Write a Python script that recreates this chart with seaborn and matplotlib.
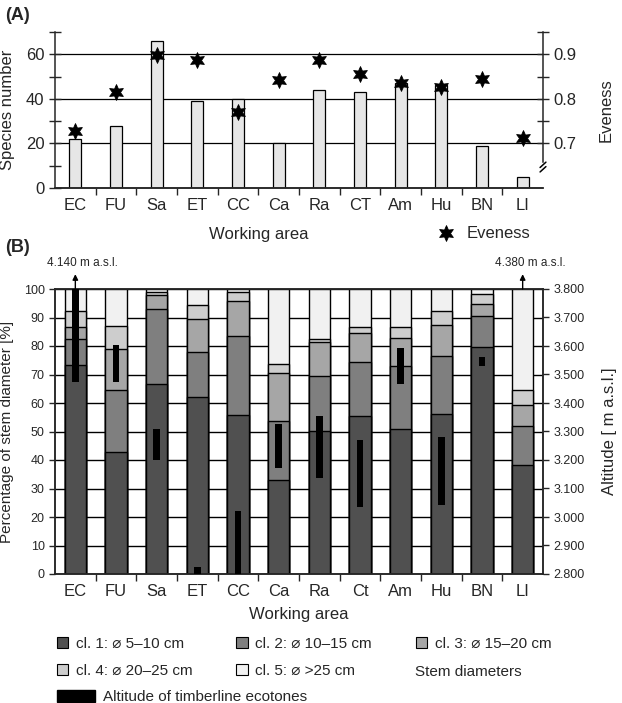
import numpy as np
import pandas as pd
import matplotlib
matplotlib.use("Agg")
import matplotlib.pyplot as plt
import seaborn as sns
from matplotlib.patches import Patch
from matplotlib.ticker import FixedLocator, FuncFormatter
from matplotlib.transforms import blended_transform_factory

# ---- panel A data ----
areas_a = ["EC", "FU", "Sa", "ET", "CC", "Ca", "Ra", "CT", "Am", "Hu", "BN", "LI"]
species = [22, 28, 66, 39, 40, 20, 44, 43, 47, 46, 19, 5]
evenness = [0.729, 0.816, 0.898, 0.887, 0.770, 0.842, 0.887, 0.856, 0.835, 0.827, 0.845, 0.713]

# ---- panel B data (share of stems per diameter class, %) ----
areas_b = ["EC", "FU", "Sa", "ET", "CC", "Ca", "Ra", "Ct", "Am", "Hu", "BN", "LI"]
cl1 = [73.2, 42.7, 66.7, 62.1, 55.9, 32.9, 50.3, 55.3, 50.9, 56.1, 79.6, 38.4]
cl2 = [9.4, 22.0, 26.4, 15.8, 27.7, 20.7, 19.3, 19.1, 22.2, 20.5, 11.0, 13.6]
cl3 = [3.9, 14.4, 4.7, 11.6, 12.1, 16.9, 11.7, 10.2, 9.6, 10.9, 4.3, 7.4]
cl4 = [5.9, 7.8, 1.0, 4.9, 3.4, 3.3, 1.2, 1.9, 3.8, 4.7, 3.5, 5.0]
cl5 = [7.6, 13.1, 1.2, 5.6, 0.9, 26.2, 17.5, 13.5, 13.5, 7.8, 1.6, 35.6]
class_labels = ["cl. 1: \u2300 5\u201310 cm", "cl. 2: \u2300 10\u201315 cm",
                "cl. 3: \u2300 15\u201320 cm", "cl. 4: \u2300 20\u201325 cm",
                "cl. 5: \u2300 >25 cm"]

# altitude of the timberline ecotones [m a.s.l.]
eco_low = [3474, 3474, 3201, 2800, 2800, 3172, 3137, 3034, 3467, 3043, 3531, 4380]
eco_high = [4140, 3602, 3309, 2823, 3022, 3326, 3356, 3271, 3593, 3280, 3560, 4380]

class_colors = ["#505050", "#7f7f7f", "#a6a6a6", "#cdcdcd", "#f1f1f1"]

sns.set_style("ticks")
plt.rcParams["font.family"] = ["Liberation Sans", "DejaVu Sans"]
plt.rcParams["axes.linewidth"] = 1.1

W, H = 622, 703
fig = plt.figure(figsize=(W / 100, H / 100), dpi=100)
n = len(areas_a)
xpos = np.arange(n)


def dotted(v, _pos=None):
    return f"{v:,.0f}".replace(",", ".")


# =================== (A) ===================
ax_a = fig.add_axes([55 / W, 1 - 188 / H, 488 / W, 156 / H])
df_a = pd.DataFrame({"area": areas_a, "species": species})
sns.barplot(data=df_a, x="area", y="species", ax=ax_a, color="#e6e6e6",
            saturation=1, edgecolor="black", linewidth=0.9, width=0.29)
ax_a.set_xlim(-0.5, n - 0.5)
ax_a.set_ylim(0, 70)
ax_a.set_yticks([0, 20, 40, 60])
ax_a.yaxis.set_minor_locator(FixedLocator([10, 30, 50, 70]))
ax_a.grid(axis="y", which="major", color="black", lw=0.9)
ax_a.set_axisbelow(True)
ax_a.set_xticks(xpos)
ax_a.set_xticklabels(areas_a)
ax_a.xaxis.set_minor_locator(FixedLocator(np.arange(0.5, n - 1, 1)))
ax_a.tick_params(axis="x", which="major", length=0, pad=7, labelsize=12)
ax_a.tick_params(axis="x", which="minor", length=5, width=1, direction="out")
ax_a.tick_params(axis="y", which="both", direction="inout", length=8, width=1, labelsize=12)
ax_a.spines["top"].set_visible(False)
ax_a.spines["right"].set_visible(False)
ax_a.set_ylabel("Species number", fontsize=12)
ax_a.yaxis.set_label_coords(-0.082, 0.5)
ax_a.set_xlabel("Working area", fontsize=12)
ax_a.xaxis.set_label_coords(0.418, -0.25)

ax_e = ax_a.twinx()
ax_e.set_ylim(0.6, 0.95)
sns.scatterplot(x=xpos, y=evenness, ax=ax_e, marker=(6, 1, 0), s=130,
                color="black", edgecolor="black", linewidth=0.6,
                label="Eveness", zorder=4, legend=False)
ax_e.set_yticks([0.7, 0.8, 0.9])
ax_e.yaxis.set_minor_locator(FixedLocator([0.75, 0.85, 0.95]))
ax_e.tick_params(axis="y", which="both", direction="inout", length=8, width=1, labelsize=12)
ax_e.spines["top"].set_visible(False)
ax_e.spines["left"].set_visible(False)
ax_e.spines["right"].set_bounds(0.658, 0.95)
ax_e.set_ylabel("Eveness", fontsize=12)
ax_e.yaxis.set_label_coords(1.115, 0.5)
# axis break marks on the evenness axis
tb = blended_transform_factory(ax_e.transAxes, ax_e.transData)
for yb in (0.642, 0.652):
    ax_e.plot([0.994, 1.006], [yb - 0.006, yb + 0.006], color="black", lw=1.1,
              transform=tb, clip_on=False)
ax_e.legend(handles=ax_e.collections, labels=["Eveness"], loc="center left",
            bbox_to_anchor=(428 / W, 1 - 233 / H), bbox_transform=fig.transFigure,
            frameon=False, fontsize=12, handletextpad=0.6, borderpad=0,
            handlelength=1.2)

fig.text(5 / W, 1 - 15 / H, "(A)", fontsize=13, fontweight="bold", va="center")

# =================== (B) ===================
ax_b = fig.add_axes([55 / W, 1 - 574 / H, 488 / W, 285 / H])
shares = np.array([cl1, cl2, cl3, cl4, cl5])
tops = np.cumsum(shares, axis=0)
for k in range(len(shares) - 1, -1, -1):
    sns.barplot(x=areas_b, y=tops[k], ax=ax_b, color=class_colors[k], saturation=1,
                edgecolor="black", linewidth=1.0, width=0.52)
ax_b.set_xlim(-0.5, n - 0.5)
ax_b.set_ylim(0, 100)
ax_b.set_yticks(np.arange(0, 101, 10))
ax_b.grid(axis="y", which="major", color="black", lw=1.0)
ax_b.set_axisbelow(True)
ax_b.set_xticks(xpos)
ax_b.set_xticklabels(areas_b)
ax_b.xaxis.set_minor_locator(FixedLocator(np.arange(0.5, n - 1, 1)))
ax_b.tick_params(axis="x", which="major", length=0, pad=7, labelsize=12)
ax_b.tick_params(axis="x", which="minor", length=5, width=1, direction="out")
ax_b.tick_params(axis="y", direction="out", length=4, width=1, labelsize=9)
ax_b.set_ylabel("Percentage of stem diameter [%]", fontsize=11)
ax_b.yaxis.set_label_coords(-0.085, 0.5)
ax_b.set_xlabel("Working area", fontsize=12)
ax_b.xaxis.set_label_coords(0.5, -0.115)

ax_alt = ax_b.twinx()
ax_alt.set_ylim(2800, 3800)
low = np.array(eco_low)
high = np.array(eco_high)
ax_alt.bar(xpos, high - low, bottom=low, width=0.17, color="black",
           edgecolor="black", linewidth=0, zorder=3)
ax_alt.set_yticks(np.arange(2800, 3801, 100))
ax_alt.yaxis.set_major_formatter(FuncFormatter(dotted))
ax_alt.tick_params(axis="y", direction="out", length=4, width=1, labelsize=9)
ax_alt.set_ylabel("Altitude [ m a.s.l.]", fontsize=12)
ax_alt.yaxis.set_label_coords(1.12, 0.5)

# ecotones above the axis range get an arrow and their altitude
ymax = ax_alt.get_ylim()[1]
for i, top in enumerate(eco_high):
    if top > ymax:
        ax_alt.annotate("", xy=(i, 1.052), xytext=(i, 1.0),
                        xycoords=("data", "axes fraction"),
                        textcoords=("data", "axes fraction"),
                        arrowprops=dict(arrowstyle="-|>", color="black", lw=1,
                                        mutation_scale=8, shrinkA=0, shrinkB=0))
        ax_alt.text(i + 0.18, 1.09, f"{dotted(top)} m a.s.l.", fontsize=8.5,
                    ha="center", va="center",
                    transform=blended_transform_factory(ax_alt.transData, ax_alt.transAxes))

fig.text(5 / W, 1 - 248 / H, "(B)", fontsize=13, fontweight="bold", va="center")

# ---- legends ----
patches = [Patch(facecolor=c, edgecolor="black", linewidth=0.8, label=l)
           for c, l in zip(class_colors, class_labels)]
order = [0, 3, 1, 4, 2]
fig.legend(handles=[patches[i] for i in order], loc="upper left",
           bbox_to_anchor=(57 / W, 1 - 637 / H), ncol=3, frameon=False,
           fontsize=11, handlelength=0.75, handleheight=0.75, handletextpad=0.5,
           columnspacing=2.85, labelspacing=0.85, borderpad=0, borderaxespad=0)
fig.text(415 / W, 1 - 672 / H, "Stem diameters", fontsize=11, va="center")
fig.legend(handles=[Patch(facecolor="black", edgecolor="black",
                          label="Altitude of timberline ecotones")],
           loc="upper left", bbox_to_anchor=(57 / W, 1 - 690 / H), frameon=False,
           fontsize=11, handlelength=2.5, handleheight=0.8, handletextpad=0.5,
           borderpad=0, borderaxespad=0)

fig.savefig("out.png", dpi=100)
